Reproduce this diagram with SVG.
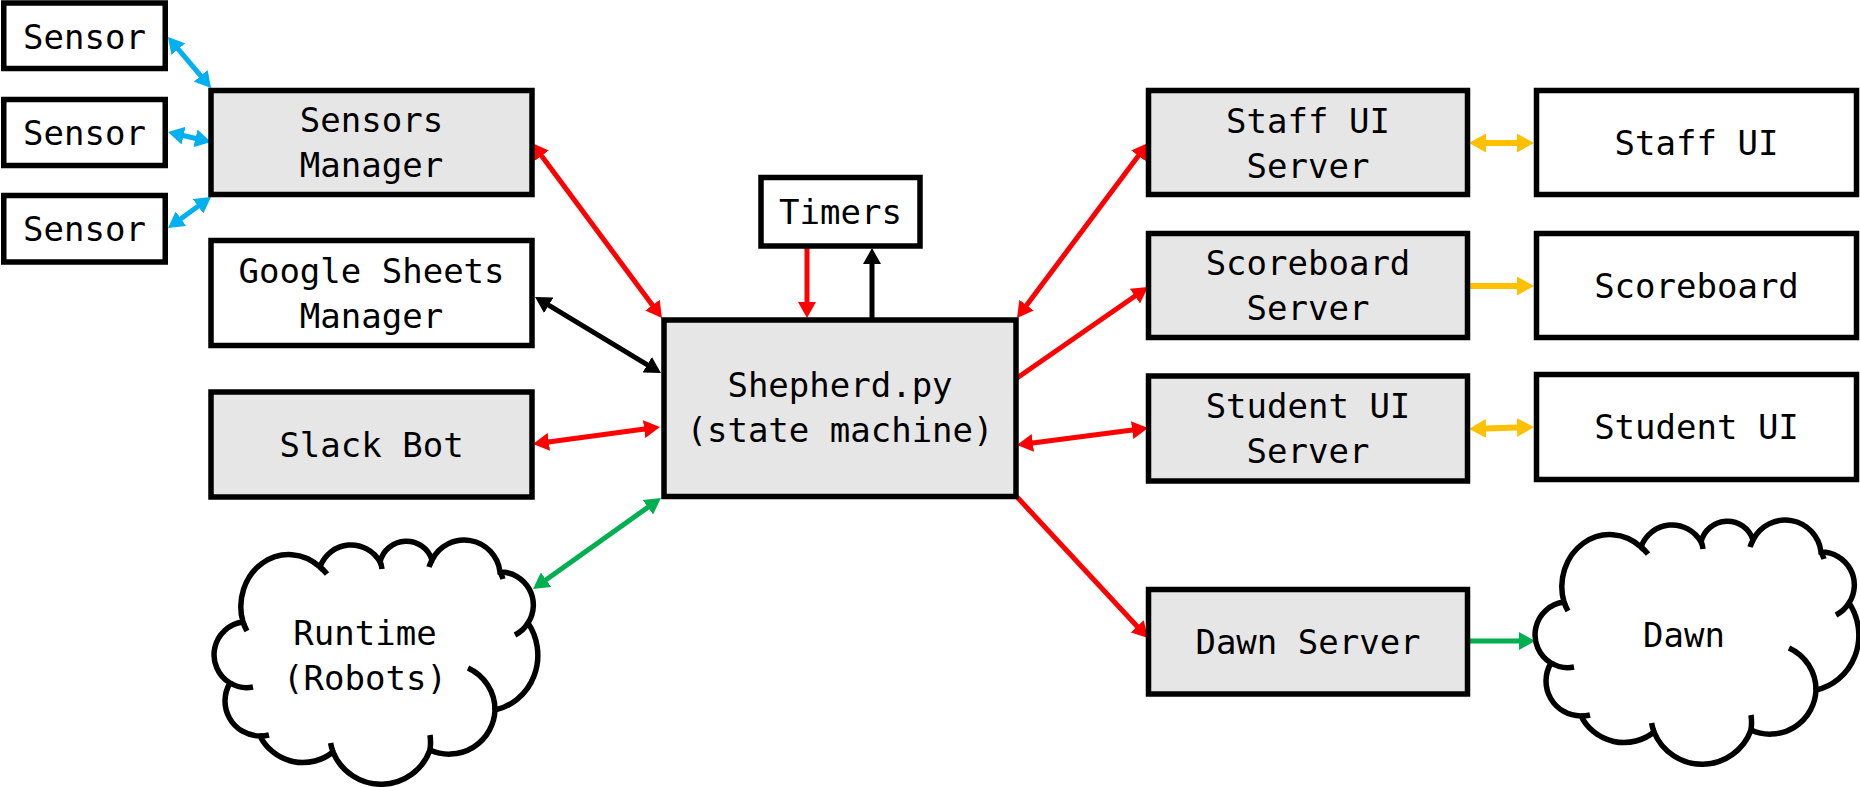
<svg xmlns="http://www.w3.org/2000/svg" width="1860" height="787" viewBox="0 0 1860 787">
<style>
.box{stroke:#000;stroke-width:5.5;fill:#fff}
.gray{fill:#e6e6e6}
.t{font-family:"DejaVu Sans Mono","Liberation Mono",monospace;font-size:34px;fill:#000;text-anchor:middle}
.ln{fill:none;stroke-width:5}
.red{stroke:#ff0000}
.blue{stroke:#00b0f0}
.green{stroke:#00b050}
.blk{stroke:#000}
.yel{stroke:#ffc000;stroke-width:6}
.cloud{fill:#fff;stroke:#000;stroke-width:5.5}
.tick{fill:none;stroke:#000;stroke-width:5.5}
</style>
<defs>
<marker id="aRed" markerUnits="userSpaceOnUse" markerWidth="16" markerHeight="18" viewBox="0 0 16 18" refX="6" refY="9" orient="auto-start-reverse"><path d="M0,0 L16,9 L0,18 z" fill="#ff0000"/></marker>
<marker id="aBlue" markerUnits="userSpaceOnUse" markerWidth="16" markerHeight="18" viewBox="0 0 16 18" refX="6" refY="9" orient="auto-start-reverse"><path d="M0,0 L16,9 L0,18 z" fill="#00b0f0"/></marker>
<marker id="aGreen" markerUnits="userSpaceOnUse" markerWidth="16" markerHeight="18" viewBox="0 0 16 18" refX="6" refY="9" orient="auto-start-reverse"><path d="M0,0 L16,9 L0,18 z" fill="#00b050"/></marker>
<marker id="aBlk" markerUnits="userSpaceOnUse" markerWidth="16" markerHeight="18" viewBox="0 0 16 18" refX="6" refY="9" orient="auto-start-reverse"><path d="M0,0 L16,9 L0,18 z" fill="#000"/></marker>
<marker id="aYel" markerUnits="userSpaceOnUse" markerWidth="17" markerHeight="19" viewBox="0 0 17 19" refX="7" refY="9.5" orient="auto-start-reverse"><path d="M0,0 L17,9.5 L0,19 z" fill="#ffc000"/></marker>
<g id="cloudShape">
<path class="cloud" d="M30 85 A48 52 0 0 1 107 30 A33 33 0 0 1 167 25 A27 27 0 0 1 219 23 A36 36 0 0 1 287 35 A33 33 0 0 1 315 86 A54 56 0 0 1 282 173 A46 46 0 0 1 217 213 A52 52 0 0 1 120 215 A48 48 0 0 1 47 199 A35 35 0 0 1 17 146 A33 33 0 0 1 30 85 Z"/>
<path class="tick" d="M34 94 A48 52 0 0 1 30 85 M107 30 A48 52 0 0 1 114 37 M167 24 A33 33 0 0 1 169 32 M216 30 A36 36 0 0 1 219 23 M287 35 A36 36 0 0 1 290 42 M315 86 A33 33 0 0 1 302 98 M255 131 A46 46 0 0 1 282 173 M217 198 A52 52 0 0 1 217 213 M120 215 A52 52 0 0 1 117.6 206 M56 198 A35 35 0 0 1 47 199 M40 150 A33 33 0 0 1 17 146"/>
</g>
</defs>

<g id="connectors">
<line class="ln blue" x1="174.4" y1="44.6" x2="204.6" y2="80.4" marker-start="url(#aBlue)" marker-end="url(#aBlue)"/>
<line class="ln blue" x1="177.7" y1="134.3" x2="201.3" y2="139.7" marker-start="url(#aBlue)" marker-end="url(#aBlue)"/>
<line class="ln blue" x1="176.1" y1="222.2" x2="202.9" y2="202.8" marker-start="url(#aBlue)" marker-end="url(#aBlue)"/>
<line class="ln red" x1="538" y1="151" x2="656" y2="310" marker-start="url(#aRed)" marker-end="url(#aRed)"/>
<line class="ln blk" x1="543.6" y1="302.2" x2="652.4" y2="367.8" marker-start="url(#aBlk)" marker-end="url(#aBlk)"/>
<line class="ln red" x1="542.9" y1="442.7" x2="650.1" y2="428.3" marker-start="url(#aRed)" marker-end="url(#aRed)"/>
<line class="ln green" x1="541.2" y1="583.2" x2="652.8" y2="503.8" marker-start="url(#aGreen)" marker-end="url(#aGreen)"/>
<line class="ln red" x1="807" y1="248" x2="807" y2="308" marker-end="url(#aRed)"/>
<line class="ln blk" x1="872" y1="318" x2="872" y2="258" marker-end="url(#aBlk)"/>
<line class="ln red" x1="1023" y1="310" x2="1142" y2="151" marker-start="url(#aRed)" marker-end="url(#aRed)"/>
<line class="ln red" x1="1017" y1="378" x2="1139.8" y2="292.7" marker-end="url(#aRed)"/>
<line class="ln red" x1="1026.9" y1="443.7" x2="1138.1" y2="429.3" marker-start="url(#aRed)" marker-end="url(#aRed)"/>
<line class="ln red" x1="1017" y1="497" x2="1141.2" y2="630.7" marker-end="url(#aRed)"/>
<line class="ln yel" x1="1479" y1="143" x2="1524" y2="143" marker-start="url(#aYel)" marker-end="url(#aYel)"/>
<line class="ln yel" x1="1468" y1="286" x2="1524" y2="286" marker-end="url(#aYel)"/>
<line class="ln yel" x1="1479" y1="428.7" x2="1524" y2="427.3" marker-start="url(#aYel)" marker-end="url(#aYel)"/>
<line class="ln green" x1="1468" y1="641" x2="1525" y2="641" marker-end="url(#aGreen)"/>
</g>

<g id="sensor1"><rect class="box" x="3.75" y="3" width="161.5" height="65.5"/><text class="t" x="84.5" y="48.5">Sensor</text></g>
<g id="sensor2"><rect class="box" x="3.75" y="99.5" width="161.5" height="66"/><text class="t" x="84.5" y="144.5">Sensor</text></g>
<g id="sensor3"><rect class="box" x="3.75" y="195.5" width="161.5" height="66.5"/><text class="t" x="84.5" y="241">Sensor</text></g>
<g id="sensors-manager"><rect class="box gray" x="211" y="90.5" width="321" height="104"/><text class="t" x="371.5" y="131.5">Sensors</text><text class="t" x="371.5" y="176.5">Manager</text></g>
<g id="google-sheets-manager"><rect class="box" x="211" y="240.5" width="321" height="105"/><text class="t" x="371.5" y="282.5">Google Sheets</text><text class="t" x="371.5" y="327.5">Manager</text></g>
<g id="slack-bot"><rect class="box gray" x="211" y="392" width="321" height="105"/><text class="t" x="371.5" y="457">Slack Bot</text></g>
<g id="runtime"><use href="#cloudShape" transform="translate(213 537)"/><text class="t" x="365" y="645">Runtime</text><text class="t" x="365" y="690">(Robots)</text></g>
<g id="timers"><rect class="box" x="761" y="177.5" width="159" height="68.5"/><text class="t" x="840.5" y="224">Timers</text></g>
<g id="shepherd"><rect class="box gray" x="664" y="320" width="352" height="176.5"/><text class="t" x="840" y="397">Shepherd.py</text><text class="t" x="840" y="442">(state machine)</text></g>
<g id="staff-ui-server"><rect class="box gray" x="1148.5" y="90.5" width="319" height="104"/><text class="t" x="1308" y="132.5">Staff UI</text><text class="t" x="1308" y="177.5">Server</text></g>
<g id="scoreboard-server"><rect class="box gray" x="1148.5" y="233.5" width="319" height="104"/><text class="t" x="1308" y="275">Scoreboard</text><text class="t" x="1308" y="319.5">Server</text></g>
<g id="student-ui-server"><rect class="box gray" x="1148.5" y="376" width="319" height="105"/><text class="t" x="1308" y="418">Student UI</text><text class="t" x="1308" y="462.5">Server</text></g>
<g id="dawn-server"><rect class="box gray" x="1148.5" y="589.5" width="319" height="104.5"/><text class="t" x="1308" y="654">Dawn Server</text></g>
<g id="staff-ui"><rect class="box" x="1536.5" y="90.5" width="320" height="104"/><text class="t" x="1696.5" y="155">Staff UI</text></g>
<g id="scoreboard"><rect class="box" x="1536.5" y="233.5" width="320" height="104"/><text class="t" x="1696.5" y="297.5">Scoreboard</text></g>
<g id="student-ui"><rect class="box" x="1536.5" y="374.5" width="320" height="105"/><text class="t" x="1696.5" y="439">Student UI</text></g>
<g id="dawn"><use href="#cloudShape" transform="translate(1534 517)"/><text class="t" x="1684" y="647">Dawn</text></g>
</svg>
